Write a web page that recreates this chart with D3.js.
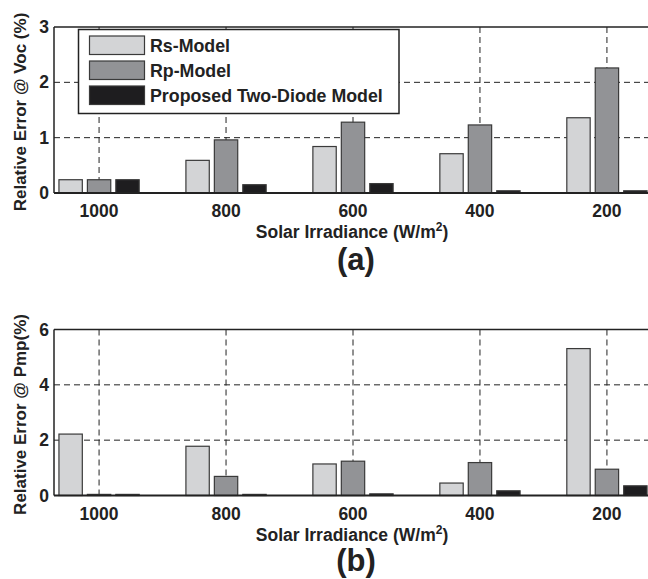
<!DOCTYPE html>
<html>
<head>
<meta charset="utf-8">
<script src="https://cdn.jsdelivr.net/npm/d3@7"></script>
<style>
  body { margin: 0; background: #fff; }
  svg { display: block; font-family: "Liberation Sans", Arial, sans-serif; font-weight: bold; }
</style>
</head>
<body>
<svg id="chart" width="648" height="579"></svg>
<script>
// categories and series
const irradiance = ["1000", "800", "600", "400", "200"];
const models = ["Rs-Model", "Rp-Model", "Proposed Two-Diode Model"];

// (a) relative error @ Voc (%)
const vocRs = [0.24, 0.59, 0.84, 0.71, 1.36];
const vocRp = [0.24, 0.96, 1.28, 1.23, 2.26];
const vocProposed = [0.24, 0.15, 0.17, 0.04, 0.04];
const vocTicks = [0, 1, 2, 3];

// (b) relative error @ Pmp (%)
const pmpRs = [2.22, 1.78, 1.14, 0.45, 5.31];
const pmpRp = [0.04, 0.69, 1.24, 1.19, 0.95];
const pmpProposed = [0.04, 0.04, 0.06, 0.17, 0.35];
const pmpTicks = [0, 2, 4, 6];

const fills = ["#d3d4d6", "#929396", "#1e1d1f"];

const svg = d3.select("#chart");

function drawPanel(opt) {
    const { top, bottom, series, ticks, yLabel, letter, letterY, legend } = opt;
    const left = 54, right = 652;
    const g = svg.append("g");

    // category index scale (MATLAB-like xlim)
    const x = d3.scaleLinear().domain([0.645, 5.355]).range([left, right]);
    const y = d3.scaleLinear().domain([0, d3.max(ticks)]).range([bottom, top]);
    const step = x(2) - x(1);
    const barOff = step * 0.224;
    const barW = step * 0.184;

    // dashed grid
    g.selectAll(".hgrid")
        .data(ticks.filter(t => t > 0 && t < d3.max(ticks)))
        .enter().append("line")
        .attr("x1", left).attr("x2", right)
        .attr("y1", d => y(d)).attr("y2", d => y(d))
        .attr("stroke", "#222").attr("stroke-width", 1)
        .attr("stroke-dasharray", "6,4");

    g.selectAll(".vgrid")
        .data(irradiance)
        .enter().append("line")
        .attr("x1", (d, i) => x(i + 1)).attr("x2", (d, i) => x(i + 1))
        .attr("y1", top).attr("y2", bottom)
        .attr("stroke", "#222").attr("stroke-width", 1)
        .attr("stroke-dasharray", "6,4");

    // bars
    series.forEach((vals, s) => {
        g.selectAll(".bar" + s)
            .data(vals)
            .enter().append("rect")
            .attr("x", (d, i) => x(i + 1) + (s - 1) * barOff - barW / 2)
            .attr("y", d => y(d))
            .attr("width", barW)
            .attr("height", d => bottom - y(d))
            .attr("fill", fills[s])
            .attr("stroke", "#3a3a3a")
            .attr("stroke-width", 1.2);
    });

    // frame: top and left lines, heavy baseline
    g.append("line").attr("x1", left).attr("x2", right).attr("y1", top).attr("y2", top)
        .attr("stroke", "#222").attr("stroke-width", 1.5);
    g.append("line").attr("x1", left).attr("x2", left).attr("y1", top).attr("y2", bottom)
        .attr("stroke", "#222").attr("stroke-width", 1.5);
    g.append("line").attr("x1", left).attr("x2", right).attr("y1", bottom).attr("y2", bottom)
        .attr("stroke", "#222").attr("stroke-width", 2);

    // y tick labels
    g.selectAll(".ytick")
        .data(ticks)
        .enter().append("text")
        .attr("x", left - 5)
        .attr("y", d => y(d) + 6)
        .attr("text-anchor", "end")
        .attr("font-size", 17.5)
        .attr("fill", "#222")
        .text(d => d);

    // x tick labels
    g.selectAll(".xtick")
        .data(irradiance)
        .enter().append("text")
        .attr("x", (d, i) => x(i + 1))
        .attr("y", bottom + 24)
        .attr("text-anchor", "middle")
        .attr("font-size", 17.5)
        .attr("fill", "#222")
        .text(d => d);

    // x axis title
    const xt = g.append("text")
        .attr("x", 352)
        .attr("y", bottom + 45)
        .attr("text-anchor", "middle")
        .attr("font-size", 17.5)
        .attr("fill", "#222");
    xt.append("tspan").text("Solar Irradiance (W/m");
    xt.append("tspan").attr("font-size", 12).attr("dy", -7).text("2");
    xt.append("tspan").attr("dy", 7).text(")");

    // y axis title
    g.append("text")
        .attr("transform", `translate(26,${(top + bottom) / 2 + 2}) rotate(-90)`)
        .attr("text-anchor", "middle")
        .attr("font-size", 17)
        .attr("fill", "#222")
        .text(yLabel);

    // panel letter
    g.append("text")
        .attr("x", 356)
        .attr("y", letterY)
        .attr("text-anchor", "middle")
        .attr("font-size", 31)
        .attr("fill", "#222")
        .text(letter);

    if (legend) {
        const lg = g.append("g");
        lg.append("rect")
            .attr("x", 78.5).attr("y", 29.5)
            .attr("width", 320.5).attr("height", 84)
            .attr("fill", "#fff").attr("stroke", "#222").attr("stroke-width", 1.5);
        models.forEach((m, s) => {
            const ry = 36 + s * 25;
            lg.append("rect")
                .attr("x", 89.5).attr("y", ry)
                .attr("width", 55).attr("height", 18.5)
                .attr("fill", fills[s])
                .attr("stroke", "#3a3a3a").attr("stroke-width", 1.2);
            lg.append("text")
                .attr("x", 150).attr("y", ry + 15.5)
                .attr("font-size", 17.8)
                .attr("fill", "#222")
                .text(m);
        });
    }
}

drawPanel({
    top: 27, bottom: 193,
    series: [vocRs, vocRp, vocProposed],
    ticks: vocTicks,
    yLabel: "Relative Error @ Voc (%)",
    letter: "(a)", letterY: 270,
    legend: true
});

drawPanel({
    top: 329.5, bottom: 495.5,
    series: [pmpRs, pmpRp, pmpProposed],
    ticks: pmpTicks,
    yLabel: "Relative Error @ Pmp(%)",
    letter: "(b)", letterY: 571,
    legend: false
});
</script>
</body>
</html>
